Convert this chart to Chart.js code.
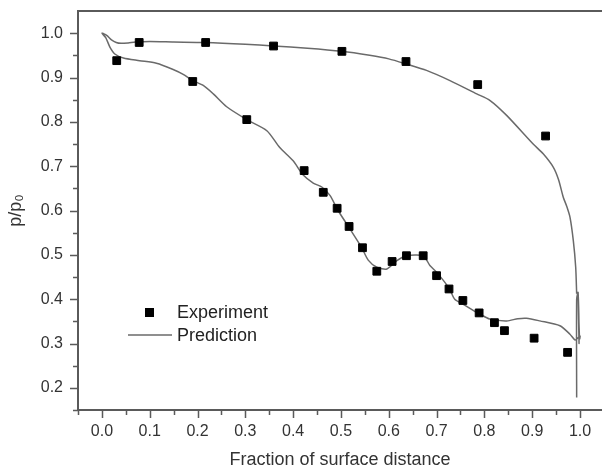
<!DOCTYPE html>
<html>
<head>
<meta charset="utf-8">
<script src="https://cdn.jsdelivr.net/npm/chart.js@4.4.0/dist/chart.umd.min.js"></script>
<style>
  html, body { margin: 0; padding: 0; background: #fff; overflow: hidden; }
</style>
</head>
<body>
<canvas id="chart" width="602" height="471"></canvas>
<script>
  // measured points (squares)
  var expX = [0.031, 0.078, 0.190, 0.217, 0.303, 0.359, 0.423, 0.463, 0.492, 0.502,
              0.517, 0.545, 0.575, 0.607, 0.636, 0.637, 0.672, 0.700, 0.726, 0.755,
              0.786, 0.789, 0.821, 0.842, 0.904, 0.928, 0.974];
  var expY = [0.938, 0.979, 0.891, 0.979, 0.805, 0.971, 0.690, 0.641, 0.605, 0.959,
              0.564, 0.516, 0.463, 0.485, 0.936, 0.498, 0.498, 0.453, 0.423, 0.397,
              0.884, 0.369, 0.347, 0.329, 0.312, 0.768, 0.280];

  // predicted curve, traced as one path: trailing edge tail -> lower branch back to 0 -> upper branch
  var predX = [0.993, 0.993, 0.996, 0.998, 0.996, 0.999, 1.000,
               0.990, 0.979, 0.958, 0.916, 0.888, 0.870, 0.847, 0.812, 0.789, 0.755, 0.738, 0.726,
               0.700, 0.686, 0.672, 0.637, 0.617, 0.596, 0.575, 0.557, 0.543, 0.519, 0.494, 0.477,
               0.460, 0.442, 0.421, 0.400, 0.372, 0.345, 0.303, 0.261, 0.233, 0.212, 0.190, 0.170,
               0.149, 0.114, 0.079, 0.045, 0.027, 0.017, 0.008, 0.000,
               0.010, 0.020, 0.030, 0.040, 0.055, 0.070, 0.100, 0.150, 0.215, 0.300, 0.359, 0.430,
               0.502, 0.560, 0.600, 0.638, 0.679, 0.728, 0.784, 0.812, 0.847, 0.902, 0.923, 0.944,
               0.955, 0.965, 0.972, 0.979, 0.986, 0.991, 0.993];
  var predY = [0.178, 0.400, 0.415, 0.300, 0.410, 0.310, 0.317,
               0.308, 0.321, 0.340, 0.351, 0.357, 0.356, 0.351, 0.355, 0.367, 0.389, 0.400, 0.425,
               0.461, 0.476, 0.498, 0.498, 0.487, 0.468, 0.472, 0.488, 0.517, 0.558, 0.600, 0.634,
               0.653, 0.662, 0.680, 0.712, 0.742, 0.780, 0.805, 0.834, 0.863, 0.882, 0.893, 0.907,
               0.918, 0.932, 0.938, 0.944, 0.953, 0.968, 0.990, 1.000,
               0.995, 0.985, 0.979, 0.977, 0.978, 0.980, 0.981, 0.980, 0.979, 0.975, 0.971, 0.966,
               0.959, 0.950, 0.942, 0.930, 0.916, 0.893, 0.863, 0.848, 0.814, 0.750, 0.728, 0.698,
               0.670, 0.630, 0.610, 0.585, 0.532, 0.472, 0.412];

  var xTicks = [0.0, 0.1, 0.2, 0.3, 0.4, 0.5, 0.6, 0.7, 0.8, 0.9, 1.0];
  var yTicks = [0.2, 0.3, 0.4, 0.5, 0.6, 0.7, 0.8, 0.9, 1.0];

  function pts(xs, ys) {
    return xs.map(function (x, i) { return { x: x, y: ys[i] }; });
  }

  Chart.defaults.font.family = "'Liberation Sans', Arial, sans-serif";
  Chart.defaults.color = '#333';

  var axisColor = '#5a5a5a';

  // top frame line, tick marks and the in-plot legend
  var decor = {
    id: 'decor',
    afterDraw: function (chart) {
      var ctx = chart.ctx, a = chart.chartArea;
      var xs = chart.scales.x, ys = chart.scales.y;
      ctx.save();
      ctx.strokeStyle = axisColor;
      ctx.lineWidth = 2;
      ctx.beginPath();
      ctx.moveTo(a.left, a.top);
      ctx.lineTo(a.right, a.top);
      ctx.stroke();

      ctx.lineWidth = 1.5;
      ctx.beginPath();
      xTicks.forEach(function (v, i) {
        var p = Math.round(xs.getPixelForValue(v)) + 0.5;
        ctx.moveTo(p, a.bottom); ctx.lineTo(p, a.bottom + 8);
        var m = Math.round(xs.getPixelForValue(v - 0.05)) + 0.5;
        ctx.moveTo(m, a.bottom); ctx.lineTo(m, a.bottom + 5);
      });
      yTicks.forEach(function (v) {
        var p = Math.round(ys.getPixelForValue(v)) + 0.5;
        ctx.moveTo(a.left, p); ctx.lineTo(a.left - 8, p);
        [v - 0.05, v + 0.05].forEach(function (mv) {
          if (mv > 1.04) return;
          var m = Math.round(ys.getPixelForValue(mv)) + 0.5;
          ctx.moveTo(a.left, m); ctx.lineTo(a.left - 5, m);
        });
      });
      ctx.stroke();

      // legend
      var ds = chart.data.datasets;
      ctx.fillStyle = ds[0].backgroundColor;
      ctx.fillRect(145, 308, 9, 9);
      ctx.strokeStyle = ds[1].borderColor;
      ctx.lineWidth = ds[1].borderWidth;
      ctx.beginPath();
      ctx.moveTo(128, 335); ctx.lineTo(172, 335);
      ctx.stroke();
      ctx.fillStyle = '#222';
      ctx.font = "18px 'Liberation Sans', Arial, sans-serif";
      ctx.textBaseline = 'middle';
      ctx.fillText(ds[0].label, 177, 313);
      ctx.fillText(ds[1].label, 177, 336);
      ctx.restore();
    }
  };

  function noPad(s) {
    s.paddingLeft = 0; s.paddingRight = 0; s.paddingTop = 0; s.paddingBottom = 0;
  }

  new Chart(document.getElementById('chart'), {
    type: 'scatter',
    data: {
      datasets: [{
        label: 'Experiment',
        data: pts(expX, expY),
        pointStyle: 'rect',
        pointRadius: 5.5,
        borderWidth: 1,
        backgroundColor: '#000',
        borderColor: '#000'
      }, {
        label: 'Prediction',
        data: pts(predX, predY),
        showLine: true,
        pointRadius: 0,
        borderColor: '#6a6a6a',
        borderWidth: 1.5,
        tension: 0.25
      }]
    },
    options: {
      responsive: false,
      animation: false,
      layout: { autoPadding: false, padding: { top: 11, right: 0, left: 0, bottom: 0 } },
      plugins: { legend: { display: false }, tooltip: { enabled: false } },
      scales: {
        x: {
          type: 'linear',
          min: -0.05,
          max: 1.046,
          afterBuildTicks: function (s) { s.ticks = xTicks.map(function (v) { return { value: v }; }); },
          afterFit: function (s) { s.height = 61; noPad(s); },
          grid: { display: false, drawTicks: false },
          border: { display: true, color: axisColor, width: 2 },
          ticks: {
            padding: 12,
            font: { size: 16 },
            callback: function (v) { return v.toFixed(1); }
          },
          title: {
            display: true,
            text: 'Fraction of surface distance',
            font: { size: 18 },
            padding: { top: 0, bottom: 0 }
          }
        },
        y: {
          type: 'linear',
          min: 0.15,
          max: 1.05,
          afterBuildTicks: function (s) { s.ticks = yTicks.map(function (v) { return { value: v }; }); },
          afterFit: function (s) { s.width = 78; noPad(s); },
          grid: { display: false, drawTicks: false },
          border: { display: true, color: axisColor, width: 2 },
          ticks: {
            padding: 15,
            font: { size: 16 },
            callback: function (v) { return v.toFixed(1); }
          },
          title: {
            display: true,
            text: 'p/p₀',
            font: { size: 18 },
            padding: { top: 5, bottom: 0 }
          }
        }
      }
    },
    plugins: [decor]
  });
</script>
</body>
</html>
